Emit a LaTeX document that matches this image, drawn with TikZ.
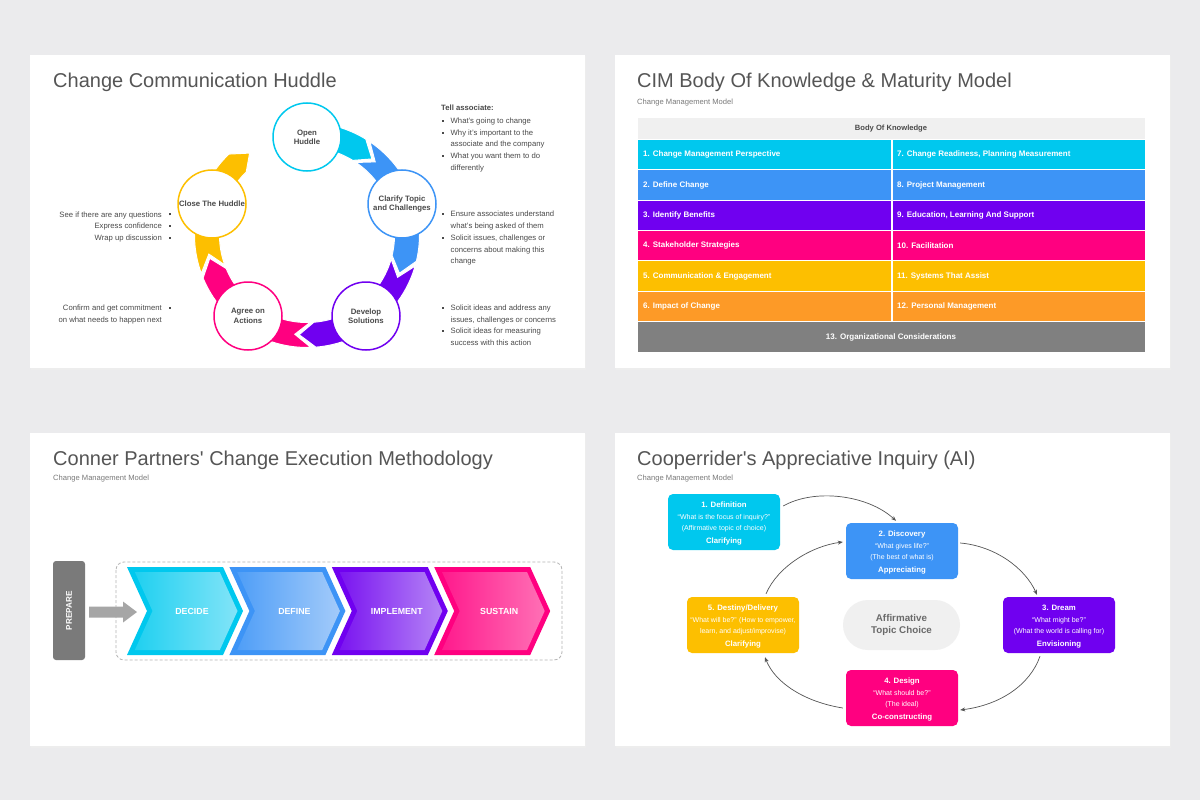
\documentclass[tikz,border=0pt]{standalone}
\usepackage{fontspec}
\setmainfont{Liberation Sans}
\usetikzlibrary{arrows.meta,calc}
\definecolor{bg}{HTML}{EBEBED}
\definecolor{ccyan}{HTML}{00C8EE}
\definecolor{cblue}{HTML}{3D94F6}
\definecolor{cpurple}{HTML}{7000F0}
\definecolor{cpink}{HTML}{FF0080}
\definecolor{cyellow}{HTML}{FDBF00}
\definecolor{corange}{HTML}{FD9A27}
\definecolor{cgray}{HTML}{808080}
\definecolor{titlec}{HTML}{555555}
\definecolor{txt}{HTML}{4A4A4A}
\definecolor{subc}{HTML}{7A7A7A}
\definecolor{hdr}{HTML}{F0F0F0}
\definecolor{prepc}{HTML}{7A7A7A}
\definecolor{arrc}{HTML}{A6A6A6}
\definecolor{dashc}{HTML}{B5B5B5}
\definecolor{connc}{HTML}{555555}
\definecolor{atcc}{HTML}{F0F0F0}
\definecolor{atct}{HTML}{6A6A6A}
\definecolor{iAl}{HTML}{20D0F0}\definecolor{iAr}{HTML}{82E4F8}
\definecolor{iBl}{HTML}{4F9EF7}\definecolor{iBr}{HTML}{A3CBFA}
\definecolor{iCl}{HTML}{7A14F0}\definecolor{iCr}{HTML}{B585F6}
\definecolor{iDl}{HTML}{FF1A8D}\definecolor{iDr}{HTML}{FF70B5}
\newcommand\bulsq{\makebox[9pt][l]{\rule[1.7pt]{1.9pt}{1.9pt}}}
\newcommand\bulsqr{\makebox[9pt][r]{\rule[1.7pt]{1.9pt}{1.9pt}}}
\newcommand\AIbox[8]{%
  \node[aibox, fill=#4] (#1) at (#2+56,#3+28) {};
  \node[aih] (#1h) at (#2+56,#3+13.5) {#5};
  \node[aim] (#1m) at (#2+56,#3+25.5) {#6};
  \node[aim] (#1n) at (#2+56,#3+36.5) {#7};
  \node[aih] (#1f) at (#2+56,#3+49) {#8};
}
\begin{document}
\begin{tikzpicture}[x=1pt,y=-1pt,
  ttl/.style={anchor=base west, inner sep=0, font=\fontsize{20}{22}\selectfont, text=titlec},
  subt/.style={anchor=base west, inner sep=0, font=\fontsize{7.6}{9}\selectfont, text=subc},
  hud/.style={circle, minimum size=68, inner sep=0, fill=white, line width=1.5, align=center, font=\fontsize{7.8}{9.3}\selectfont\bfseries, text=txt},
  btxt/.style={anchor=base west, inner sep=0, font=\fontsize{7.7}{9}\selectfont, text=txt},
  btxtr/.style={anchor=base east, inner sep=0, font=\fontsize{7.7}{9}\selectfont, text=txt},
  celltxt/.style={anchor=west, inner sep=0, font=\fontsize{8}{9}\selectfont\bfseries, text=white},
  chevtxt/.style={inner sep=0, font=\fontsize{8.8}{10}\selectfont\bfseries, text=white},
  aibox/.style={minimum width=112, minimum height=56, rounded corners=5, inner sep=0},
  aih/.style={anchor=base, inner sep=0, font=\fontsize{7.8}{9}\selectfont\bfseries, text=white},
  aim/.style={anchor=base, inner sep=0, font=\fontsize{7}{8}\selectfont, text=white},
  conn/.style={draw=connc, line width=0.7, -{Stealth[length=5pt,width=4pt]}}
]
\useasboundingbox (0,0) rectangle (1200,800);
\fill[bg] (0,0) rectangle (1200,800);
% panels
\foreach \px/\py in {30/55, 615/55, 30/433, 615/433}{
  \fill[black!7] (\px+0.5,\py+1) rectangle (\px+555.5,\py+314.5);
  \fill[white] (\px,\py) rectangle (\px+555,\py+313);
}
% ================= TL =================
\node[ttl] (t1) at (53,88) {Change Communication Huddle};
\begin{scope}[shift={(307,235)}, yscale=-1]
  \fill[ccyan, draw=white, line width=1] (90:112.5) arc[start angle=90, end angle=58.5, radius=112.5] -- (49.5:100) -- (58.5:87.5) arc[start angle=58.5, end angle=90, radius=87.5] -- cycle;
  \foreach \cc/\S/\B in {cblue/56/-13.5, cpurple/-16/-85.5, cpink/-88/-157.5, cyellow/-160/-226}
    \fill[\cc, draw=white, line width=1] (\S:112.5) arc[start angle=\S, end angle=\B, radius=112.5] -- ({\B-9}:100) -- (\B:87.5) arc[start angle=\B, end angle=\S, radius=87.5] -- ({\S-9}:100) -- cycle;
\end{scope}
\node[hud, draw=ccyan] (open) at (307,137) {Open\\Huddle};
\node[hud, draw=cblue] (clar) at (402,204) {Clarify Topic\\and Challenges};
\node[hud, draw=cpurple] (dev) at (366,316) {Develop\\Solutions};
\node[hud, draw=cpink] (agree) at (248,316) {Agree on\\Actions};
\node[hud, draw=cyellow] (close) at (212,204) {Close The Huddle};
% right texts
\node[btxt] (r1) at (441,110.5) {\textbf{Tell associate:}};
\node[btxt] (r2) at (441.5,123.5) {\bulsq What’s going to change};
\node[btxt] (r3) at (441.5,135.5) {\bulsq Why it’s important to the};
\node[btxt] (r4) at (450.5,146.5) {associate and the company};
\node[btxt] (r5) at (441.5,158.5) {\bulsq What you want them to do};
\node[btxt] (r6) at (450.5,170.5) {differently};
\node[btxt] (r7) at (441.5,216.5) {\bulsq Ensure associates understand};
\node[btxt] (r8) at (450.5,228.5) {what’s being asked of them};
\node[btxt] (r9) at (441.5,240.5) {\bulsq Solicit issues, challenges or};
\node[btxt] (r10) at (450.5,252.5) {concerns about making this};
\node[btxt] (r11) at (450.5,263.5) {change};
\node[btxt] (r12) at (441.5,310.5) {\bulsq Solicit ideas and address any};
\node[btxt] (r13) at (450.5,322) {issues, challenges or concerns};
\node[btxt] (r14) at (441.5,333.5) {\bulsq Solicit ideas for measuring};
\node[btxt] (r15) at (450.5,345.5) {success with this action};
% left texts
\node[btxtr] (l1) at (171,217) {See if there are any questions\bulsqr};
\node[btxtr] (l2) at (171,228.5) {Express confidence\bulsqr};
\node[btxtr] (l3) at (171,240.5) {Wrap up discussion\bulsqr};
\node[btxtr] (l4) at (171,310.5) {Confirm and get commitment\bulsqr};
\node[btxtr] (l5) at (162,322) {on what needs to happen next};
% ================= TR =================
\node[ttl] (t2) at (637,88) {CIM Body Of Knowledge \& Maturity Model};
\node[subt] (s2) at (637,104) {Change Management Model};
\fill[hdr] (638,118) rectangle (1145,139);
\node[inner sep=0, font=\fontsize{7.6}{9}\selectfont\bfseries, text=txt] (hdrt) at (891,129) {Body Of Knowledge};
\foreach \ll/\rr/\cc [count=\i] in {
  {1. Change Management Perspective}/{7. Change Readiness, Planning Measurement}/ccyan,
  {2. Define Change}/{8. Project Management}/cblue,
  {3. Identify Benefits}/{9. Education, Learning And Support}/cpurple,
  {4. Stakeholder Strategies}/{10. Facilitation}/cpink,
  {5. Communication \& Engagement}/{11. Systems That Assist}/cyellow,
  {6. Impact of Change}/{12. Personal Management}/corange}{
  \pgfmathsetmacro\yt{140+(\i-1)*30.33}
  \fill[\cc] (638,\yt) rectangle (891,\yt+29.3);
  \fill[\cc] (893,\yt) rectangle (1145,\yt+29.3);
  \node[celltxt] (cl\i) at (643,\yt+14.8) {\ll};
  \node[celltxt] (cr\i) at (897,\yt+14.8) {\rr};
}
\fill[cgray] (638,322) rectangle (1145,352);
\node[inner sep=0, font=\fontsize{8}{9}\selectfont\bfseries, text=white] (c13) at (891,337) {13. Organizational Considerations};
% ================= BL =================
\node[ttl] (t3) at (53,465) {Conner Partners\textquotesingle\ Change Execution Methodology};
\node[subt] (s3) at (53,480) {Change Management Model};
\draw[dashc, line width=0.8, dash pattern=on 3pt off 2pt, rounded corners=8] (116,562) rectangle (562,660);
\foreach \k/\lab/\cb/\cl/\cr in {0/DECIDE/ccyan/iAl/iAr, 1/DEFINE/cblue/iBl/iBr, 2/IMPLEMENT/cpurple/iCl/iCr, 3/SUSTAIN/cpink/iDl/iDr}{
  \pgfmathsetmacro\xo{127+102.4*\k}
  \fill[\cb] (\xo,567) -- (\xo+96,567) -- (\xo+116,611) -- (\xo+96,655) -- (\xo,655) -- (\xo+20,611) -- cycle;
  \shade[left color=\cl, right color=\cr] (\xo+7.8,572) -- (\xo+92.8,572) -- (\xo+110.5,611) -- (\xo+92.8,650) -- (\xo+7.8,650) -- (\xo+25.5,611) -- cycle;
  \node[chevtxt] (ch\k) at (\xo+65,611) {\lab};
}
\node[rotate=90, minimum width=99, minimum height=32, inner sep=0, fill=prepc, rounded corners=3, text=white, font=\fontsize{8.2}{9}\selectfont\bfseries] (prep) at (69,610.5) {PREPARE};
\fill[arrc] (89,606.5) -- (123,606.5) -- (123,601.5) -- (137,612) -- (123,622.5) -- (123,617.5) -- (89,617.5) -- cycle;
% ================= BR =================
\node[ttl] (t4) at (637,465) {Cooperrider\textquotesingle s Appreciative Inquiry (AI)};
\node[subt] (s4) at (637,480) {Change Management Model};
\node[fill=atcc, rounded corners=25, minimum width=117, minimum height=50, inner sep=0, align=center, font=\fontsize{9.8}{12.5}\selectfont\bfseries, text=atct] (atc) at (901.5,625) {Affirmative\\Topic Choice};
\AIbox{def}{668}{494}{ccyan}{1. Definition}{“What is the focus of inquiry?”}{(Affirmative topic of choice)}{Clarifying}
\AIbox{disc}{846}{523}{cblue}{2. Discovery}{“What gives life?”}{(The best of what is)}{Appreciating}
\AIbox{dream}{1003}{597}{cpurple}{3. Dream}{“What might be?”}{(What the world is calling for)}{Envisioning}
\AIbox{design}{846}{670}{cpink}{4. Design}{“What should be?”}{(The ideal)}{Co-constructing}
\AIbox{dest}{687}{597}{cyellow}{5. Destiny/Delivery}{“What will be?” (How to empower,}{learn, and adjust/improvise)}{Clarifying}
\draw[conn] ($(def.east)+(3,-16)$) .. controls (815,488) and (868,495) .. ($(disc.north)+(-6,-2)$);
\draw[conn] ($(dest.north)+(23,-3)$) .. controls (778,566) and (812,546) .. ($(disc.west)+(-3,-9)$);
\draw[conn] ($(disc.east)+(2,-8)$) .. controls (995,546) and (1025,568) .. ($(dream.north)+(-22,-2)$);
\draw[conn] ($(dream.south)+(-19,3)$) .. controls (1030,685) and (1000,705) .. ($(design.east)+(2,12)$);
\draw[conn] ($(design.west)+(-3,10)$) .. controls (805,702) and (775,683) .. ($(dest.south)+(22,4)$);
\end{tikzpicture}
\end{document}
